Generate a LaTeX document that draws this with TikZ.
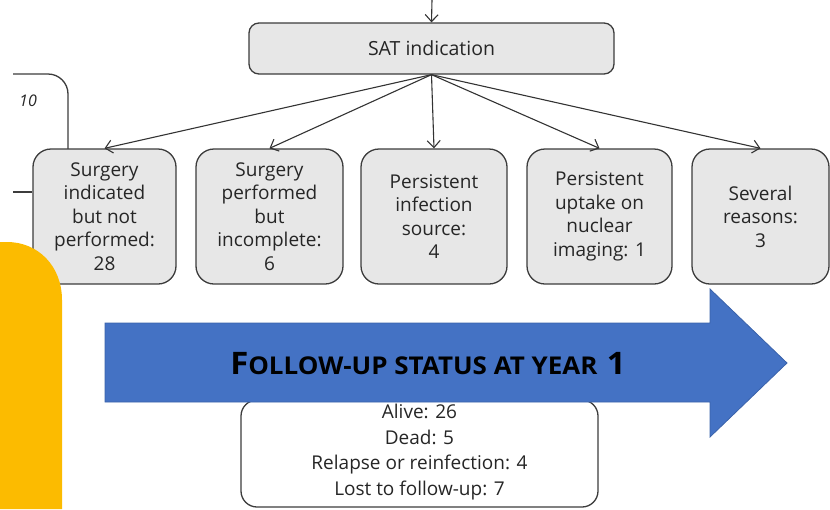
\documentclass[tikz,border=0pt]{standalone}
\usepackage{fontspec}
\setmainfont{Open Sans}
\usetikzlibrary{arrows.meta}
\definecolor{boxfill}{HTML}{E7E7E7}
\definecolor{boxline}{HTML}{3C3C3C}
\definecolor{linecol}{HTML}{333333}
\definecolor{txt}{HTML}{262626}
\definecolor{arrowblue}{HTML}{4472C4}
\definecolor{arrowedge}{HTML}{3A62AA}
\definecolor{gold}{HTML}{FCBB00}
\begin{document}
\begin{tikzpicture}[x=1pt,y=-1pt,
  box/.style={draw=boxline, fill=boxfill, line width=1.3pt, rounded corners=18pt,
    align=center, text=txt, font=\fontsize{19}{23.5}\selectfont, inner sep=0pt,
    minimum height=135pt},
  conn/.style={draw=linecol, line width=1.1pt, -{Straight Barb[length=7pt,width=13pt]}},
  frame/.style={draw=boxline, line width=1.3pt}
]
\useasboundingbox (0,0) rectangle (830,509);
% partial box at left
\coordinate (p1) at (13,74);
\coordinate (p2) at (68,74);
\coordinate (p3) at (68,149);
\draw[frame, rounded corners=20pt] (p1) -- (p2) -- (p3);
\node[font=\itshape\fontsize{16}{16}\selectfont, text=txt] (ten) at (28,101) {10};
\coordinate (l2) at (13,192);

% SAT
\node[box, minimum width=365pt, minimum height=51pt, rounded corners=10pt,
  font=\fontsize{19.5}{22}\selectfont] (sat) at (431.5,48.5) {SAT indication};
\coordinate (top) at (432,0);
\draw[conn] (top) -- (sat.north);

% boxes
\node[box, minimum width=143pt] (b1) at (104.5,216.5) {Surgery\\indicated\\but not\\performed:\\28};
\node[box, minimum width=147pt] (b2) at (269.5,216.5) {Surgery\\performed\\but\\incomplete:\\6};
\node[box, minimum width=146pt] (b3) at (434,216.5) {Persistent\\infection\\source:\\4};
\node[box, minimum width=145pt] (b4) at (599.5,216.5) {Persistent\\uptake on\\nuclear\\imaging: 1};
\node[box, minimum width=137pt] (b5) at (760.5,216.5) {Several\\reasons:\\3};
\draw[frame] (l2) -- (l2 -| b1.west);

\foreach \b in {b1,b2,b3,b4,b5} \draw[conn] (sat.south) -- (\b.north);

% bottom box
\node[draw=boxline, fill=white, line width=1.3pt, rounded corners=16pt,
  minimum width=357pt, minimum height=107pt] (res) at (419.5,453.5) {};

% blue arrow
\coordinate (a1) at (105,323);
\coordinate (a2) at (710,323);
\coordinate (a3) at (710,289);
\coordinate (a4) at (787,363);
\coordinate (a5) at (710,437);
\coordinate (a6) at (710,402);
\coordinate (a7) at (105,402);
\draw[draw=arrowedge, fill=arrowblue, line width=0.8pt] (a1) -- (a2) -- (a3) -- (a4) -- (a5) -- (a6) -- (a7) -- cycle;
\node[font=\bfseries, text=black, inner sep=0pt] (title) at (428,364)
  {\scalebox{1.06}[1]{{\fontsize{31}{31}\selectfont F}{\fontsize{24.5}{31}\selectfont OLLOW-UP STATUS AT YEAR}\hspace{9pt}{\fontsize{31}{31}\selectfont 1}}};

\node[align=center, text=txt, font=\fontsize{19}{25.5}\selectfont, inner sep=0pt] (restext) at (419.5,452)
  {Alive: 26\\Dead: 5\\Relapse or reinfection: 4\\Lost to follow-up: 7};

% yellow shape
\coordinate (y1) at (0,509);
\coordinate (y2) at (0,242);
\coordinate (y3) at (7,242);
\coordinate (y4) at (62,300);
\coordinate (y5) at (62,509);
\fill[gold] (y1) -- (y2) -- (y3) .. controls (38,242) and (62,266) .. (y4) -- (y5) -- cycle;
\end{tikzpicture}
\end{document}
